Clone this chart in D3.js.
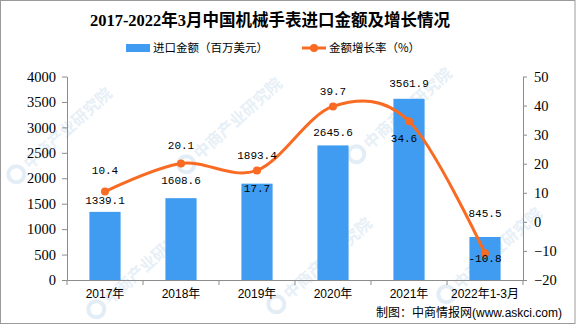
<!DOCTYPE html>
<html><head><meta charset="utf-8">
<script src="https://cdn.jsdelivr.net/npm/d3@7"></script>
<style>
body{margin:0;background:#fff;}
svg{display:block;}
</style></head>
<body>
<svg id="chart" width="576" height="326"></svg>
<script>
const categories = ["2017年","2018年","2019年","2020年","2021年","2022年1-3月"];
const importValues = [1339.1,1608.6,1893.4,2645.6,3561.9,845.5];
const growthRates = [10.4,20.1,17.7,39.7,34.6,-10.8];
const leftTicks = [0,500,1000,1500,2000,2500,3000,3500,4000];
const rightTicks = [-20,-10,0,10,20,30,40,50];
const seriesNames = ["进口金额（百万美元）","金额增长率（%）"];
const titleText = "2017-2022年3月中国机械手表进口金额及增长情况";
const sourceText = "制图：中商情报网(www.askci.com)";
const watermarkText = "中商产业研究院";

// label placement offsets (style, not data)
const barLabelDy = [-12,-18,-29,-13.5,-16,-24];
const lineLabelDy = [-21,-18.5,17.5,-15.5,16.5,4.5];
const lineLabelDx = [0,0,0,0,-5,0];

const BAR = "#3f9cf0", LINE = "#f96a22", AXIS = "#8c8c8c";
const svg = d3.select("#chart");
const W = 576, H = 326;
const L = 67, R = 523, T = 76.5, B = 280;

// faint watermarks, kept inside the canvas
const wm = svg.append("g").attr("fill","#e7eff7").attr("font-family","Noto Sans CJK SC").attr("font-size",16).attr("font-weight","bold");
const wmPos = [[30,170],[200,160],[370,150],[110,305],[290,300],[460,290]];
wmPos.forEach(p=>{
  const g = wm.append("g").attr("transform",`translate(${p[0]},${p[1]}) rotate(-42)`);
  g.append("circle").attr("cx",-13).attr("cy",-6).attr("r",8).attr("fill","none").attr("stroke","#e3edf6").attr("stroke-width",4);
  g.append("text").attr("x",0).attr("y",0).text(watermarkText);
});

// border
svg.append("rect").attr("x",0.5).attr("y",0.5).attr("width",W-1.5).attr("height",H-3).attr("fill","none").attr("stroke","#9a9a9a");

const x = d3.scaleBand().domain(categories).range([L,R]).paddingInner(0.59).paddingOuter(0.295);
const yL = d3.scaleLinear().domain([0,4000]).range([B,T]);
const yR = d3.scaleLinear().domain([-20,50]).range([B,T]);
const cx = d => x(d) + x.bandwidth()/2;

// bars
svg.append("g").selectAll("rect").data(importValues).join("rect")
  .attr("x",(d,i)=>x(categories[i])).attr("width",x.bandwidth())
  .attr("y",d=>yL(d)).attr("height",d=>B-yL(d)).attr("fill",BAR);

// axes
const axL = svg.append("g").attr("transform",`translate(${L},0)`)
  .call(d3.axisLeft(yL).tickValues(leftTicks).tickSize(5).tickPadding(6).tickSizeOuter(0).tickFormat(d3.format("d")));
const axR = svg.append("g").attr("transform",`translate(${R},0)`)
  .call(d3.axisRight(yR).tickValues(rightTicks).tickSize(4).tickPadding(7).tickSizeOuter(0).tickFormat(d3.format("d")));
[axL,axR].forEach(a=>{
  a.selectAll("path,line").attr("stroke",AXIS);
  a.selectAll("text").attr("font-family","Liberation Serif").attr("font-size",14.5).attr("fill","#000");
});
const axB = svg.append("g").attr("transform",`translate(0,${B})`)
  .call(d3.axisBottom(x).tickSize(0).tickPadding(9).tickSizeOuter(0));
axB.select("path").attr("stroke",AXIS);
axB.selectAll("text").attr("font-family","Liberation Sans, Noto Sans CJK SC").attr("font-size",12).attr("fill","#000");
// boundary ticks
const bounds = categories.map(c=>x(c)-x.step()*x.paddingInner()/2).concat([R]);
svg.append("g").selectAll("line").data(bounds).join("line")
  .attr("x1",d=>d).attr("x2",d=>d).attr("y1",B).attr("y2",B+5).attr("stroke",AXIS);

// line
const pts = growthRates.map((v,i)=>[cx(categories[i]), yR(v)]);
svg.append("path").datum(pts).attr("d",d3.line().curve(d3.curveCatmullRom.alpha(0)))
  .attr("fill","none").attr("stroke",LINE).attr("stroke-width",3);
svg.append("g").selectAll("circle").data(pts).join("circle")
  .attr("cx",d=>d[0]).attr("cy",d=>d[1]).attr("r",4).attr("fill",LINE);

// labels
const lab = svg.append("g").attr("font-family","Liberation Mono").attr("font-size",11).attr("text-anchor","middle").attr("fill","#000");
importValues.forEach((v,i)=>{
  lab.append("text").attr("x",cx(categories[i])).attr("y",yL(v)+barLabelDy[i]).attr("dy","0.35em").text(d3.format(".1f")(v));
});
growthRates.forEach((v,i)=>{
  lab.append("text").attr("x",cx(categories[i])+lineLabelDx[i]).attr("y",yR(v)+lineLabelDy[i]).attr("dy","0.35em").text(d3.format(".1f")(v).replace("−","-"));
});

// title
svg.append("text").attr("x",270).attr("y",26).attr("text-anchor","middle")
  .attr("font-family","Liberation Serif, Noto Sans CJK SC").attr("font-weight","bold").attr("font-size",16.5).text(titleText);

// legend
const lg = svg.append("g").attr("font-family","Noto Sans CJK SC").attr("font-size",11.5).attr("fill","#000");
lg.append("rect").attr("x",126).attr("y",44).attr("width",24).attr("height",8).attr("fill",BAR);
lg.append("text").attr("x",153).attr("y",52).text(seriesNames[0]);
lg.append("line").attr("x1",302).attr("x2",326).attr("y1",48).attr("y2",48).attr("stroke",LINE).attr("stroke-width",3);
lg.append("circle").attr("cx",314).attr("cy",48).attr("r",4).attr("fill",LINE);
lg.append("text").attr("x",329).attr("y",52).text(seriesNames[1]);

// source
svg.append("text").attr("x",562).attr("y",317).attr("text-anchor","end")
  .attr("font-family","Liberation Sans, Noto Sans CJK SC").attr("font-size",12).attr("fill","#000").text(sourceText);
</script>
</body></html>
